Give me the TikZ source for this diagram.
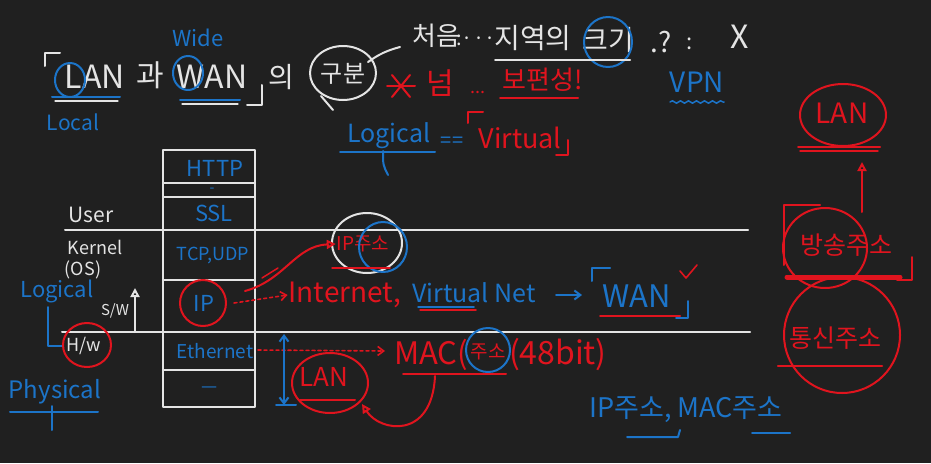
\documentclass[tikz,border=0pt]{standalone}
\usepackage{fontspec}
\setmainfont{Noto Sans CJK KR}
\usetikzlibrary{arrows.meta,decorations.pathmorphing}
\definecolor{bg}{HTML}{202020}
\definecolor{wh}{HTML}{E4E4E4}
\definecolor{bl}{HTML}{1C74C8}
\definecolor{rd}{HTML}{E0141E}
\begin{document}
\begin{tikzpicture}[x=1pt,y=-1pt,line width=2pt,line cap=round,line join=round,
  fs/.style={font=\fontsize{#1}{#1}\selectfont},
  lbl/.style={inner sep=0pt,anchor=center},
  wt/.style={lbl,text=wh},
  bt/.style={lbl,text=bl},
  rt/.style={lbl,text=rd},
  wl/.style={draw=wh},
  bll/.style={draw=bl},
  rl/.style={draw=rd},
  otip/.style={-{Triangle[open,length=9pt,width=9pt]}},
  btip/.style={-{Straight Barb[length=6pt,width=9pt]}}]
\fill[bg] (0,0) rectangle (931,463);
\useasboundingbox (0,0) rectangle (931,463);

% ---------- title ----------
\draw[wl] (45,66) -- (45,53) -- (60,53);
\node[wt,fs=32] (lan) at (95,77) {LAN};
\node[wt,fs=30] (gwa) at (150,75) {과};
\node[wt,fs=32] (wan) at (212,77) {WAN};
\draw[wl] (262,85) -- (262,105) -- (247,105);
\node[wt,fs=28] (ui) at (281,77) {의};
\node[wt,fs=24] (gubun) at (343,74) {구분};
\draw[wl] (343,73) ellipse [x radius=33,y radius=27];
\coordinate (gtail) at (400,47);
\draw[wl] (368,62) to[bend left=10] (gtail);
\draw[wl] (321,96) -- (333,110);
\draw[bll] (70,80) ellipse [x radius=15,y radius=17];
\draw[bll] (188,73) ellipse [x radius=15,y radius=17];
\draw[bll] (52,97) -- (120,97);
\draw[bll] (180,100) -- (240,100);
\draw[wl,line width=1.2pt] (55,101) -- (118,101);
\draw[wl,line width=1.2pt] (182,104) -- (238,104);
\node[bt,fs=22] (wide) at (198,38) {Wide};
\node[bt,fs=21] (local) at (73,122) {Local};

% ---------- first line ----------
\node[wt,fs=26] (cheoeum) at (436,36) {처음};
\node[wt,fs=20] (c1) at (476,40) {:···};
\node[wt,fs=28] (jiyeok) at (533,38) {지역의};
\node[wt,fs=28] (keugi) at (608,40) {크기};
\draw[bll] (608,42) ellipse [x radius=24,y radius=25];
\draw[wl] (495,60) -- (630,60);
\node[wt,fs=28] (q) at (661,42) {.?};
\node[wt,fs=22] (c2) at (690,44) {:};
\node[wt,fs=32] (x) at (740,37) {X};

% ---------- red line ----------
\coordinate (st) at (401,86);
\draw[rl] (st) ++(-14,0) -- ++(28,0);
\draw[rl] (st) ++(-9,-11) -- ++(18,22);
\draw[rl] (st) ++(-9,11) -- ++(18,-22);
\node[rt,fs=30] (neom) at (440,83) {넘};
\node[rt,fs=18] (dots) at (478,92) {...};
\node[rt,fs=26] (bopyeon) at (543,80) {보편성!};
\draw[rl] (500,98) -- (578,98);
\node[bt,fs=28] (vpn) at (697,82) {VPN};
\draw[bll,line width=1.5pt,decorate,decoration={snake,amplitude=1.2pt,segment length=8pt}] (670,102) -- (724,102);

\node[bt,fs=25] (logical1) at (389,136) {Logical};
\draw[bll] (340,152) -- (435,152);
\draw[bll] (383,151) .. controls (383,165) .. (388,175);
\node[bt,fs=20] (eq) at (452,142) {==};
\draw[rl] (483,112) -- (468,112) -- (468,123);
\node[rt,fs=27] (virtual1) at (520,138) {Virtual};
\draw[rl] (568,140) -- (568,155) -- (556,155);

% ---------- stack ----------
\draw[wl] (163,150) rectangle (255,407);
\draw[wl] (163,183) -- (255,183);
\draw[wl] (163,197) -- (255,197);
\draw[wl] (163,280) -- (255,280);
\draw[wl] (163,370) -- (255,370);
\draw[wl] (65,230) -- (748,230);
\draw[wl] (62,332) -- (750,332);
\node[bt,fs=22] (http) at (215,168) {HTTP};
\node[bt,fs=14] (dash1) at (212,190) {-};
\node[bt,fs=22] (ssl) at (214,213) {SSL};
\node[bt,fs=18] (tcp) at (213,255) {TCP,UDP};
\node[bt,fs=22] (ip) at (204,303) {IP};
\draw[rl] (203,303) ellipse [x radius=23,y radius=23];
\node[bt,fs=19] (eth) at (215,351) {Ethernet};
\node[bt,fs=18] (dash2) at (210,390) {—};

% ---------- left labels ----------
\node[wt,fs=21] (user) at (91,215) {User};
\node[wt,fs=18] (kernel) at (95,247) {Kernel};
\node[wt,fs=18] (os) at (83,270) {(OS)};
\node[bt,fs=22] (logical2) at (57,291) {Logical};
\node[wt,fs=15] (sw) at (115,311) {S/W};
\coordinate (swb) at (135,332);
\coordinate (swt) at (135,288);
\draw[wl,otip] (swb) -- (swt);
\draw[bll] (48,307) -- (48,346) -- (62,346);
\node[wt,fs=18] (hw) at (84,346) {H/w};
\draw[rl] (87,345) ellipse [x radius=24,y radius=22];
\node[bt,fs=24] (physical) at (55,392) {Physical};
\draw[bll] (10,412) -- (98,412);
\draw[bll] (52,406) -- (52,430);

% ---------- IP row ----------
\node[rt,fs=19] (ipaddr) at (363,244) {IP주소};
\draw[wl] (367,243) ellipse [x radius=35,y radius=30];
\draw[bll] (383,247) ellipse [x radius=24,y radius=25];
\draw[rl,line width=1.5pt] (332,268) -- (390,268);
\draw[rl,otip] (245,291) .. controls (285,280) and (295,246) .. (ipaddr.west);
\draw[rl,line width=1.5pt] (262,278) -- (278,268);
\node[rt,fs=28] (internet) at (345,295) {Internet,};
\coordinate (ipe) at (234,303);
\draw[rl,dashed,btip,line width=1.6pt] (ipe) -- (internet.west);
\node[bt,fs=25] (vnet) at (474,293) {Virtual Net};
\draw[bll,line width=1.5pt] (418,307) -- (474,307);
\draw[rl,line width=1.5pt] (420,310) -- (476,310);
\node[bt,fs=31] (wan2) at (637,296) {WAN};
\coordinate (vne) at (556,295);
\draw[bll,btip] (vne) -- (582,295);
\draw[bll] (610,268) -- (592,268) -- (592,281);
\draw[bll] (688,301) -- (688,318) -- (676,318);
\draw[rl] (600,316) -- (680,316);
\draw[rl,line width=1.6pt] (680,271) -- (686,278) -- (697,265);

% ---------- Ethernet row ----------
\node[rt,fs=31,anchor=east] (mac) at (469,355) {MAC(};
\node[rt,fs=19] (macju) at (488,352) {주소};
\node[rt,fs=32,anchor=west] (bits) at (508,355) {(48bit)};
\draw[bll] (488,350) ellipse [x radius=22,y radius=22];
\draw[rl] (403,374) -- (506,374);
\coordinate (ethe) at (258,350);
\coordinate (ethtip) at (385,351);
\draw[rl,dashed,btip,line width=1.6pt] (ethe) -- (ethtip);
\coordinate (arT) at (284,334);
\coordinate (arB) at (284,405);
\draw[bll,{Straight Barb[length=6pt,width=9pt]}-{Straight Barb[length=6pt,width=9pt]}] (arT) -- (arB);
\draw[bll] (276,405) -- (296,405);
\node[rt,fs=26] (lan2) at (324,377) {LAN};
\draw[rl] (330,383) ellipse [x radius=38,y radius=30];
\draw[rl] (300,400) -- (355,400);
\coordinate (macu) at (435,376);
\coordinate (lanin) at (362,404);
\draw[rl,otip] (macu) .. controls (432,440) and (380,432) .. (lanin);

\node[bt,fs=27] (ipmac) at (686,410) {IP주소, MAC주소};
\draw[bll] (627,437) -- (678,437) -- (680,430);
\draw[bll] (752,433) -- (790,433);

% ---------- right column ----------
\node[rt,fs=28] (lan3) at (842,113) {LAN};
\draw[rl] (843,115) ellipse [x radius=43,y radius=31];
\draw[rl] (798,147) -- (880,147);
\draw[rl,line width=1.4pt] (800,151) -- (878,151);
\node[rt,fs=25] (bangsong) at (846,245) {방송주소};
\draw[rl] (825,248) ellipse [x radius=42,y radius=40];
\draw[rl] (820,205) -- (784,205) -- (784,265);
\draw[rl] (912,257) -- (912,280) -- (897,280);
\draw[rl,line width=5pt] (787,277) -- (900,277);
\coordinate (upb) at (862,212);
\coordinate (upt) at (862,162);
\draw[rl,otip] (upb) -- (upt);
\node[rt,fs=25] (tongsin) at (835,338) {통신주소};
\draw[rl] (842,335) ellipse [x radius=58,y radius=58];
\draw[rl,line width=2.5pt] (778,366) -- (882,366);
\end{tikzpicture}
\end{document}
